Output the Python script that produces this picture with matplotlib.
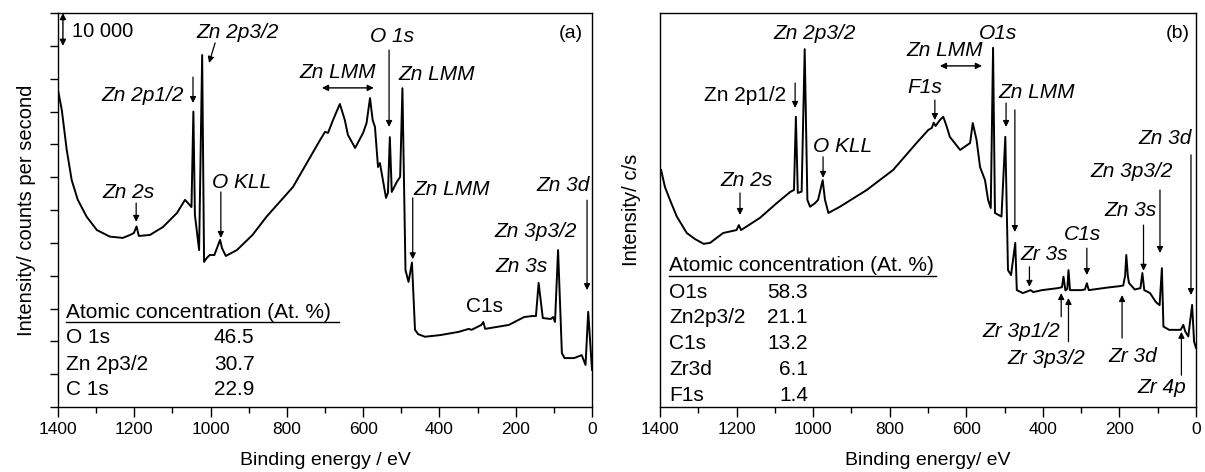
"""
XPS survey spectra of the two films with peak assignments and
atomic concentration tables.
"""

import matplotlib
matplotlib.use('Agg')
import matplotlib.pyplot as plt
from matplotlib.ticker import MultipleLocator

plt.rcParams['font.family'] = ['Liberation Sans', 'DejaVu Sans']

# --- spectrum (a): binding energy (eV) and intensity (counts/s) ---
be_a = [1400, 1390, 1377, 1364, 1348, 1325, 1298, 1264, 1230, 1211, 1201,
        1194, 1188, 1159, 1125, 1088, 1067, 1059, 1050, 1045, 1041, 1030,
        1022, 1017, 1010, 1002, 990, 975, 970, 960, 931, 890, 853, 784, 713,
        700, 692, 679, 661, 648, 640, 621, 600, 591, 582, 575, 569, 561, 556,
        540, 535, 530, 525, 512, 503, 497, 489, 481, 472, 464, 456, 438, 398,
        349, 323, 316, 290, 285, 280, 218, 178, 157, 147, 140, 129, 108, 102,
        97, 89, 79, 72, 47, 27, 17, 10, 0]
int_a = [96600, 90500, 78300, 69100, 63100, 58000, 53900, 51900, 51500, 52400,
         53000, 55000, 52100, 52400, 54800, 59100, 63100, 62100, 60900, 90000,
         58500, 47800, 107200, 44200, 45400, 46300, 46300, 50900, 48400, 46000,
         47800, 52400, 58000, 67000, 81300, 83800, 83500, 87400, 92300, 87400,
         82900, 78900, 83500, 86500, 94100, 87400, 85300, 73100, 74300, 63700,
         65200, 82200, 65500, 68500, 70100, 97100, 41700, 38100, 44000, 23500,
         22200, 21400, 21900, 22900, 23800, 23500, 25000, 25900, 23800, 25000,
         27400, 27700, 27700, 37800, 27100, 26800, 27400, 25900, 47800, 16400,
         14900, 14900, 15800, 12800, 29000, 11300]

# --- spectrum (b) ---
be_b = [1397, 1387, 1374, 1356, 1330, 1309, 1286, 1269, 1235, 1200, 1194,
        1188, 1139, 1095, 1060, 1050, 1045, 1040, 1030, 1022, 1015, 1008, 995,
        987, 975, 969, 960, 930, 860, 791, 730, 699, 690, 685, 680, 669, 660,
        651, 643, 616, 590, 583, 573, 564, 551, 543, 536, 530, 525, 508, 498,
        491, 483, 472, 468, 452, 432, 425, 402, 361, 350, 346, 341, 336, 333,
        329, 300, 290, 285, 280, 230, 200, 190, 185, 182, 178, 175, 160, 145,
        140, 135, 120, 105, 95, 89, 85, 70, 40, 33, 28, 20, 10, 5, 0]
int_b = [72200, 67000, 63100, 58000, 53000, 51200, 49700, 50000, 53000, 53900,
         55400, 53900, 57600, 62100, 65500, 66100, 88400, 65200, 65600, 109000,
         63100, 61000, 62100, 63100, 69100, 63100, 59100, 61000, 66100, 72200,
         80400, 84400, 85000, 86600, 85600, 87400, 88400, 85400, 82300, 78300,
         80400, 86500, 81300, 73100, 69100, 63100, 60600, 109400, 59100, 58000,
         82300, 41700, 40200, 50000, 35600, 34700, 35600, 35000, 35600, 36200,
         36500, 39700, 35500, 36000, 41700, 35600, 35600, 35800, 37700, 35600,
         36400, 36800, 37000, 40000, 46300, 40000, 37800, 35800, 36200, 40800,
         35600, 34700, 32000, 31000, 42300, 24500, 23500, 23500, 25000, 23000,
         21500, 31100, 20000, 18000]

# atomic concentration tables (At. %)
elements_a = ['O 1s', 'Zn 2p3/2', 'C 1s']
conc_a = [46.5, 30.7, 22.9]
elements_b = ['O1s', 'Zn2p3/2', 'C1s', 'Zr3d', 'F1s']
conc_b = [58.3, 21.1, 13.2, 6.1, 1.4]

# peak labels: text, x (eV), y, italic
labels_a = [
    ('Zn 2p3/2', 928, 114200, True),
    ('Zn 2p1/2', 1178, 95000, True),
    ('Zn 2s', 1216, 65200, True),
    ('O KLL', 918, 68500, True),
    ('Zn LMM', 666, 102000, True),
    ('O 1s', 525, 112700, True),
    ('Zn LMM', 406, 101400, True),
    ('Zn LMM', 368, 66100, True),
    ('Zn 3d', 76, 67600, True),
    ('Zn 3p3/2', 149, 53600, True),
    ('Zn 3s', 186, 42700, True),
    ('C1s', 283, 30500, False),
]
# arrows: (x_from, y_from, x_to, y_to)
arrows_a = [
    (988, 110900, 1004, 104800),
    (1046, 100500, 1046, 92600),
    (1195, 62100, 1195, 56400),
    (973, 65500, 973, 51500),
    (532, 108700, 532, 85300),
    (470, 63700, 470, 45000),
    (13, 63000, 13, 35600),
]

labels_b = [
    ('Zn 2p3/2', 995, 113900, True),
    ('Zn 2p1/2', 1178, 95000, False),
    ('O KLL', 922, 79200, True),
    ('Zn 2s', 1173, 69100, True),
    ('F1s', 708, 97200, True),
    ('Zn LMM', 656, 108700, True),
    ('O1s', 517, 113900, True),
    ('Zn LMM', 416, 95900, True),
    ('Zn 3d', 81, 81900, True),
    ('Zn 3p3/2', 168, 71600, True),
    ('Zn 3s', 172, 60000, True),
    ('C1s', 296, 52400, True),
    ('Zr 3s', 397, 46300, True),
    ('Zr 3p1/2', 457, 22900, True),
    ('Zr 3p3/2', 392, 14900, True),
    ('Zr 3d', 165, 15300, True),
    ('Zr 4p', 90, 5800, True),
]
arrows_b = [
    (1047, 98700, 1047, 91100),
    (974, 76200, 974, 69800),
    (1191, 65200, 1191, 58500),
    (682, 93500, 682, 87400),
    (496, 92600, 496, 85300),
    (473, 90500, 473, 53300),
    (13, 76800, 13, 34100),
    (94, 66100, 94, 46900),
    (137, 55400, 137, 41500),
    (285, 48400, 285, 40200),
    (435, 42700, 435, 36600),
    (352, 27500, 352, 34700),
    (333, 19900, 333, 33200),
    (193, 21000, 193, 34100),
    (38, 9700, 38, 22900),
]


def draw_panel(ax, be, counts, labels, arrows):
    ax.plot(be, counts, color='black', lw=1.4, zorder=3)
    for text, x, y, italic in labels:
        ax.text(x, y, text, ha='center', va='center', fontsize=15,
                style='italic' if italic else 'normal')
    for x0, y0, x1, y1 in arrows:
        ax.annotate('', xy=(x1, y1), xytext=(x0, y0),
                    arrowprops=dict(arrowstyle='-|>', color='black', lw=0.9,
                                    shrinkA=0, shrinkB=0, mutation_scale=9))
    ax.set_xlim(1400, 0)
    ax.set_ylim(0, 120000)
    ax.xaxis.set_major_locator(MultipleLocator(200))
    ax.xaxis.set_minor_locator(MultipleLocator(100))
    ax.tick_params(axis='x', which='major', direction='out', length=7,
                   width=1, labelsize=12.5)
    ax.tick_params(axis='x', which='minor', direction='out', length=4, width=1)
    for sp in ax.spines.values():
        sp.set_linewidth(1)


def draw_table(ax, x_name, x_val, val_ha, y_title, y_rows, line_end, names, values):
    ax.text(x_name, y_title, 'Atomic concentration (At. %)', transform=ax.transAxes,
            ha='left', va='center', fontsize=15)
    ax.plot([x_name, line_end], [y_title - 0.026, y_title - 0.026],
            transform=ax.transAxes, color='black', lw=1)
    for name, val, y in zip(names, values, y_rows):
        ax.text(x_name, y, name, transform=ax.transAxes, ha='left',
                va='center', fontsize=15)
        ax.text(x_val, y, f'{val:.1f}', transform=ax.transAxes, ha=val_ha,
                va='center', fontsize=15)


fig = plt.figure(figsize=(12.05, 4.72), dpi=100)
ax_a = fig.add_axes([0.0481, 0.1377, 0.4432, 0.8347])
ax_b = fig.add_axes([0.5477, 0.1377, 0.4448, 0.8347])

# (a)
draw_panel(ax_a, be_a, int_a, labels_a, arrows_a)
ax_a.yaxis.set_major_locator(MultipleLocator(10000))
ax_a.tick_params(axis='y', direction='out', length=6, width=1, labelleft=False)
ax_a.set_xlabel('Binding energy / eV', fontsize=14, labelpad=11)
ax_a.set_ylabel('Intensity/ counts per second', fontsize=14.5, labelpad=10)
ax_a.annotate('', xy=(1387, 120000), xytext=(1387, 110000),
              arrowprops=dict(arrowstyle='<|-|>', color='black', lw=1,
                              shrinkA=0, shrinkB=0, mutation_scale=9))
ax_a.text(1363, 114500, '10 000', ha='left', va='center', fontsize=14.5)
ax_a.annotate('', xy=(708, 97200), xytext=(572, 97200),
              arrowprops=dict(arrowstyle='<|-|>', color='black', lw=1,
                              shrinkA=0, shrinkB=0, mutation_scale=9))
ax_a.text(0.96, 0.949, '(a)', transform=ax_a.transAxes, ha='center',
          va='center', fontsize=14)
draw_table(ax_a, 0.015, 0.292, 'left', 0.241, [0.176, 0.108, 0.044], 0.526,
           elements_a, conc_a)

# (b)
draw_panel(ax_b, be_b, int_b, labels_b, arrows_b)
ax_b.set_yticks([])
ax_b.set_xlabel('Binding energy/ eV', fontsize=14, labelpad=11)
ax_b.set_ylabel('Intensity/ c/s', fontsize=14.5, labelpad=14)
ax_b.annotate('', xy=(669, 103900), xytext=(559, 103900),
              arrowprops=dict(arrowstyle='<|-|>', color='black', lw=1,
                              shrinkA=0, shrinkB=0, mutation_scale=9))
ax_b.text(0.966, 0.949, '(b)', transform=ax_b.transAxes, ha='center',
          va='center', fontsize=14)
draw_table(ax_b, 0.017, 0.276, 'right', 0.359,
           [0.291, 0.227, 0.161, 0.096, 0.029], 0.515, elements_b, conc_b)

fig.savefig('out.png', dpi=100)
